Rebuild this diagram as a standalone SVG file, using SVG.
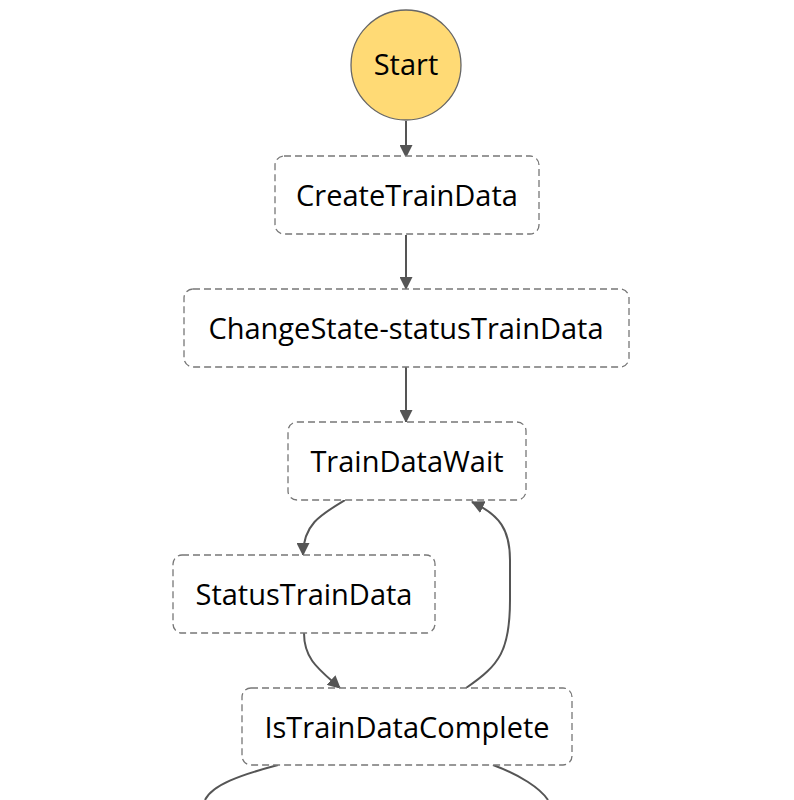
<svg xmlns="http://www.w3.org/2000/svg" width="794" height="800" viewBox="0 0 794 800">
<defs>
<marker id="ah" markerWidth="13" markerHeight="13" refX="12" refY="6.5" orient="auto" markerUnits="userSpaceOnUse">
<path d="M0,0 L13,6.5 L0,13 Z" fill="#555"/>
</marker>
<style>
.node rect{fill:#fff;stroke:#777;stroke-width:1.3;stroke-dasharray:7,4}
.lbl{font-family:"Open Sans","Noto Sans",sans-serif;font-size:29px;fill:#000;text-anchor:middle}
.edge{fill:none;stroke:#555;stroke-width:2;marker-end:url(#ah)}
.edge2{fill:none;stroke:#555;stroke-width:2}
</style>
</defs>
<rect width="794" height="800" fill="#fff"/>
<g id="connectors">
<path class="edge" d="M406,121 L406,157"/>
<path class="edge" d="M406,235 L406,289"/>
<path class="edge" d="M406,367 L406,422"/>
<path class="edge" d="M345,500 C320,515 303,525 303,555"/>
<path class="edge" d="M304,633 C304,660 320,670 340,688"/>
<path class="edge" d="M466,688 C500,665 510,650 510,600 L510,560 C510,530 500,515 472,502"/>
<path class="edge2" d="M278,765 C240,775 212,785 205,800"/>
<path class="edge2" d="M493,765 C520,775 540,788 548,800"/>
</g>
<g id="Start">
<circle cx="406" cy="65" r="55" fill="#FFDA75" stroke="#666" stroke-width="1.3"/>
<text class="lbl" x="406" y="75">Start</text>
</g>
<g id="CreateTrainData" class="node">
<rect x="275" y="156" width="264" height="78" rx="9"/>
<text class="lbl" x="407" y="206">CreateTrainData</text>
</g>
<g id="ChangeState-statusTrainData" class="node">
<rect x="184" y="289" width="445" height="78" rx="9"/>
<text class="lbl" x="406" y="339">ChangeState-statusTrainData</text>
</g>
<g id="TrainDataWait" class="node">
<rect x="288" y="422" width="238" height="78" rx="9"/>
<text class="lbl" x="407" y="472">TrainDataWait</text>
</g>
<g id="StatusTrainData" class="node">
<rect x="173" y="555" width="262" height="78" rx="9"/>
<text class="lbl" x="304" y="605">StatusTrainData</text>
</g>
<g id="IsTrainDataComplete" class="node">
<rect x="242" y="688" width="330" height="77" rx="9"/>
<text class="lbl" x="407" y="738">IsTrainDataComplete</text>
</g>
</svg>
